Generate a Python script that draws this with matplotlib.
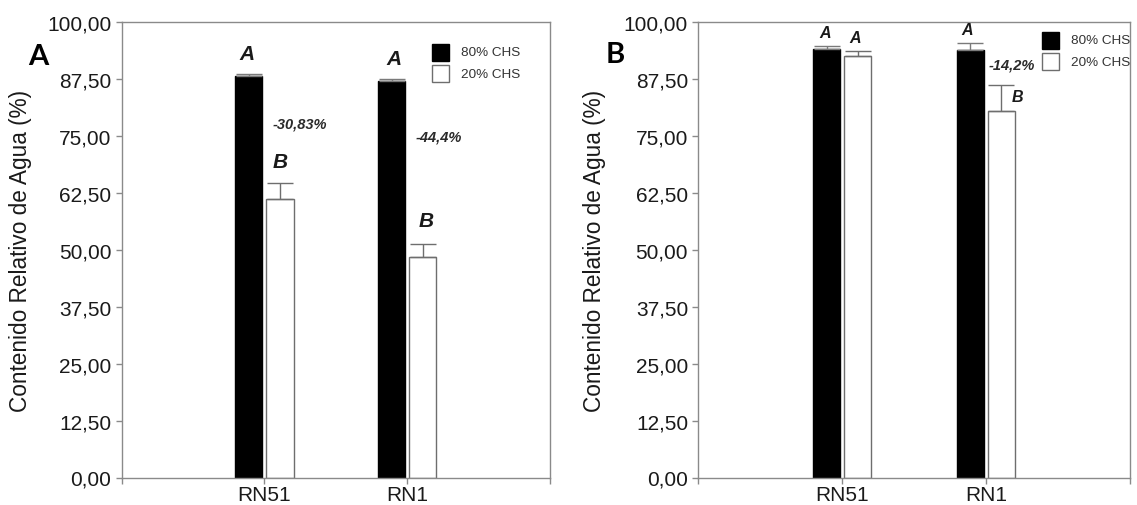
import matplotlib
matplotlib.use("Agg")
import matplotlib.pyplot as plt
import numpy as np
from matplotlib.patches import Rectangle

# Genotypes and treatments
genotypes = ["RN51", "RN1"]
treatments = ["80% CHS", "20% CHS"]

# Relative water content (%) and standard error, experiment A
rwc_a_80 = [88.3, 87.1]
rwc_a_20 = [61.1, 48.4]
err_a_80 = [0.4, 0.5]
err_a_20 = [3.5, 3.0]
letters_a_80 = ["A", "A"]
letters_a_20 = ["B", "B"]
change_a = ["-30,83%", "-44,4%"]

# Relative water content (%) and standard error, experiment B
rwc_b_80 = [94.2, 94.0]
rwc_b_20 = [92.5, 80.6]
err_b_80 = [0.7, 1.5]
err_b_20 = [1.3, 5.7]
letters_b_80 = ["A", "A"]
letters_b_20 = ["A", "B"]
change_b = ["", "-14,2%"]

yticks = [0, 12.5, 25, 37.5, 50, 62.5, 75, 87.5, 100]

plt.rcParams["font.family"] = ["Liberation Sans", "DejaVu Sans"]

W, H = 1137, 506
fig = plt.figure(figsize=(W / 100, H / 100), dpi=100)

spine_col = "#8a8a8a"
text_col = "#1a1a1a"
bw = 0.19
off = 0.109
y_bottom = 478.5
y_top = 23.3


def make_axes(left, right):
    ax = fig.add_axes([left / W, 1 - y_bottom / H, (right - left) / W,
                       (y_bottom - y_top) / H])
    ax.set_xlim(-1, 2)
    ax.set_ylim(0, 100)
    for s in ax.spines.values():
        s.set_color(spine_col)
        s.set_linewidth(1.0)
    ax.set_yticks(yticks)
    ax.set_yticklabels([f"{v:.2f}".replace(".", ",") for v in yticks])
    ax.set_xticks([-1, 0, 1, 2])
    ax.set_xticklabels(["", genotypes[0], genotypes[1], ""])
    ax.tick_params(axis="both", direction="out", length=4.5, width=1.0,
                   color=spine_col, labelsize=15, labelcolor=text_col, pad=3)
    ax.tick_params(axis="x", pad=1.0)
    return ax


def draw_bars(ax, v80, v20, e80, e20, cap):
    x = np.arange(len(genotypes))
    ax.bar(x - off, v80, width=bw, color="black", edgecolor="black",
           linewidth=1.0, zorder=2, label=treatments[0])
    ax.bar(x + off, v20, width=bw, color="white", edgecolor="#6e6e6e",
           linewidth=1.0, zorder=2, label=treatments[1])
    ax.errorbar(x - off, v80, yerr=[np.zeros(len(x)), e80], fmt="none",
                ecolor="#7a7a7a", elinewidth=1.0, capsize=cap, capthick=1.0,
                zorder=3)
    ax.errorbar(x + off, v20, yerr=[np.zeros(len(x)), e20], fmt="none",
                ecolor="#6e6e6e", elinewidth=1.0, capsize=cap, capthick=1.0,
                zorder=3)


def draw_legend(ax, x0, ytop):
    trans = ax.transAxes
    bb = ax.get_position()
    wpx, hpx = bb.width * W, bb.height * H
    sw, sh = 17.5 / wpx, 17.0 / hpx
    gap = 21.4 / hpx
    for i, (lab, fc, ec) in enumerate(zip(treatments, ["black", "white"],
                                          ["black", "#6e6e6e"])):
        y = ytop - i * gap
        ax.add_patch(Rectangle((x0, y - sh), sw, sh, transform=trans,
                               facecolor=fc, edgecolor=ec, lw=1.0,
                               clip_on=False, zorder=4))
        ax.text(x0 + sw + 11.5 / wpx, y - sh / 2, lab, transform=trans,
                fontsize=9.7, color="#333333", ha="left", va="center")


ylabel = "Contenido Relativo de Agua (%)"

# ---------------- Panel A ----------------
axA = make_axes(121.7, 550)
draw_bars(axA, rwc_a_80, rwc_a_20, err_a_80, err_a_20, cap=9.5)
xA80 = [-0.124, 0.909]
yA80 = [93.1, 92.0]
xA20 = [0.108, 1.130]
yA20 = [69.5, 56.4]
for i in range(2):
    axA.text(xA80[i], yA80[i], letters_a_80[i], fontsize=15, fontweight="bold",
             fontstyle="italic", ha="center", va="center", color=text_col)
    axA.text(xA20[i], yA20[i], letters_a_20[i], fontsize=15, fontweight="bold",
             fontstyle="italic", ha="center", va="center", color=text_col)
xAc = [0.247, 1.223]
yAc = [77.8, 74.9]
for i in range(2):
    axA.text(xAc[i], yAc[i], change_a[i], fontsize=10.5, fontweight="bold",
             fontstyle="italic", ha="center", va="center", color="#2a2a2a")
draw_legend(axA, (431.7 - 121.7) / 428.3, 1 - (45 - y_top) / (y_bottom - y_top))
axA.text((20.5 - 121.7) / 428.3, 0.5, ylabel, transform=axA.transAxes,
         rotation=90, fontsize=16.3, ha="center", va="center", color=text_col)
fig.text(38 / W, 1 - 57 / H, "A", fontsize=21, fontweight="bold",
         family=["Lato", "DejaVu Sans"], ha="center", va="center", color="black")

# ---------------- Panel B ----------------
axB = make_axes(698.5, 1129.5)
draw_bars(axB, rwc_b_80, rwc_b_20, err_b_80, err_b_20, cap=9.5)
xB80 = [-0.12, 0.87]
yB80 = [97.8, 98.5]
xB20 = [0.09, 1.22]
yB20 = [96.7, 83.8]
for i in range(2):
    axB.text(xB80[i], yB80[i], letters_b_80[i], fontsize=11.5, fontweight="bold",
             fontstyle="italic", ha="center", va="center", color=text_col)
    axB.text(xB20[i], yB20[i], letters_b_20[i], fontsize=11.5, fontweight="bold",
             fontstyle="italic", ha="center", va="center", color=text_col)
axB.text(1.18, 90.7, change_b[1], fontsize=10.5, fontweight="bold",
         fontstyle="italic", ha="center", va="center", color="#2a2a2a")
draw_legend(axB, (1041.7 - 698.5) / 431, 1 - (33 - y_top) / (y_bottom - y_top))
axB.text((595 - 698.5) / 431, 0.5, ylabel, transform=axB.transAxes,
         rotation=90, fontsize=16.3, ha="center", va="center", color=text_col)
fig.text(615 / W, 1 - 55 / H, "B", fontsize=21, fontweight="bold",
         family=["Lato", "DejaVu Sans"], ha="center", va="center", color="black")

fig.savefig("out.png", dpi=100, facecolor="white")
